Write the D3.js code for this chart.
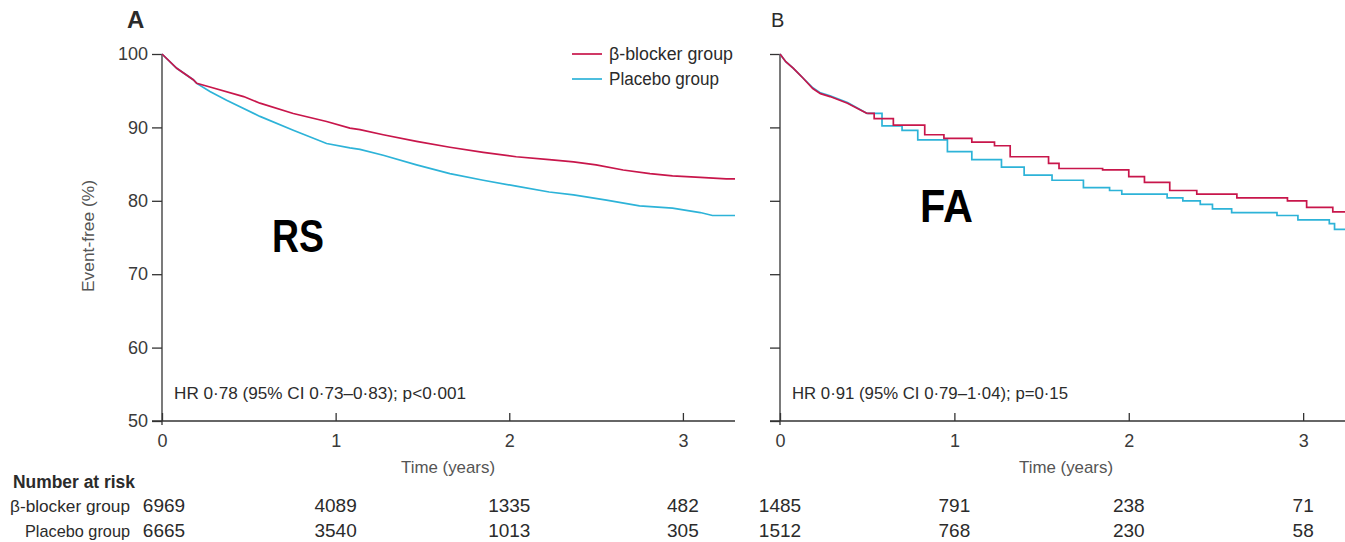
<!DOCTYPE html>
<html>
<head>
<meta charset="utf-8">
<script src="https://cdn.jsdelivr.net/npm/d3@7"></script>
<style>
  body { margin: 0; background: #fff; }
  svg text { font-family: 'Liberation Sans', Arial, sans-serif; fill: #2b2b2b; }
  .tick-label { font-size: 18px; fill: #3a3a3a; }
  .note { font-size: 17px; }
  .axis-title { font-size: 17px; fill: #555; }
  .risk { font-size: 19px; }
  .risk-label { font-size: 17px; }
</style>
</head>
<body>
<div id="chart"></div>
<script>
  // panel A (RS) — time in years, event-free %
  const rsBetaT = [0, 0.085, 0.18, 0.2, 0.276, 0.47, 0.564, 0.756, 0.948, 1.082, 1.14, 1.274, 1.466, 1.658, 1.85, 2.04, 2.23, 2.37, 2.5, 2.656, 2.81, 2.94, 3.1, 3.25, 3.3];
  const rsBetaV = [100, 98.05, 96.5, 96.0, 95.5, 94.2, 93.3, 91.9, 90.8, 89.9, 89.7, 89.0, 88.1, 87.3, 86.6, 86.0, 85.6, 85.3, 84.9, 84.2, 83.7, 83.4, 83.2, 83.0, 83.0];
  const rsPlacT = [0, 0.085, 0.18, 0.2, 0.276, 0.372, 0.564, 0.756, 0.948, 1.082, 1.14, 1.274, 1.466, 1.658, 1.85, 2.04, 2.23, 2.37, 2.56, 2.75, 2.94, 3.1, 3.17, 3.3];
  const rsPlacV = [100, 98.05, 96.5, 96.0, 94.9, 93.7, 91.5, 89.6, 87.8, 87.2, 87.0, 86.2, 84.9, 83.7, 82.8, 82.0, 81.2, 80.8, 80.1, 79.3, 79.0, 78.4, 78.0, 78.0];

  // panel B (FA) — smooth part up to 0.5 years, stepped after
  const faBetaT = [0, 0.033, 0.077, 0.133, 0.188, 0.232, 0.287, 0.387, 0.5, 0.54, 0.65, 0.83, 0.94, 1.1, 1.23, 1.32, 1.54, 1.6, 1.85, 2.0, 2.09, 2.235, 2.39, 2.62, 2.91, 3.02, 3.17, 3.24];
  const faBetaV = [100, 98.95, 98.05, 96.7, 95.3, 94.6, 94.2, 93.3, 91.9, 91.2, 90.3, 89.0, 88.5, 88.0, 87.5, 86.0, 85.1, 84.4, 84.2, 83.3, 82.5, 81.4, 80.9, 80.4, 80.0, 79.1, 78.5, 78.5];
  const faPlacT = [0, 0.033, 0.077, 0.133, 0.188, 0.232, 0.287, 0.387, 0.5, 0.585, 0.7, 0.79, 0.96, 1.1, 1.27, 1.4, 1.56, 1.74, 1.89, 1.96, 2.22, 2.31, 2.41, 2.48, 2.59, 2.85, 2.97, 3.15, 3.18, 3.24];
  const faPlacV = [100, 98.95, 98.05, 96.7, 95.4, 94.7, 94.3, 93.4, 91.9, 90.2, 89.6, 88.3, 86.7, 85.6, 84.6, 83.5, 82.8, 81.8, 81.4, 80.9, 80.4, 80.0, 79.5, 78.9, 78.4, 78.0, 77.4, 76.9, 76.1, 76.1];

  const yTicks = [50, 60, 70, 80, 90, 100];
  const xTicks = [0, 1, 2, 3];

  const groups = ['β-blocker group', 'Placebo group'];
  const riskA = [[6969, 4089, 1335, 482], [6665, 3540, 1013, 305]];
  const riskB = [[1485, 791, 238, 71], [1512, 768, 230, 58]];

  const RED = '#c8164b';
  const BLUE = '#2db3d8';
  const AXIS = '#333';

  const width = 1345;
  const height = 542;
  const plotTop = 54;
  const plotBottom = 421;

  // squeeze Arial-ish text to the narrow widths of the original typeface
  const fit = function (sel, len) {
    sel.attr('textLength', len).attr('lengthAdjust', 'spacingAndGlyphs');
    return sel;
  };

  const svg = d3.select('#chart').append('svg')
    .attr('width', width)
    .attr('height', height);

  const yScale = d3.scaleLinear().domain([50, 100]).range([plotBottom, plotTop]);

  const panels = [
    { id: 'A', x0: 162, tMax: 3.3, x1: 735, tag: 'RS', tagX: 272, tagY: 252, tagW: 52, labels: true,
      hr: 'HR 0·78 (95% CI 0·73–0·83); p<0·001', hrW: 292, stepFrom: null, titleX: 448,
      series: [[rsPlacT, rsPlacV, BLUE], [rsBetaT, rsBetaV, RED]], risk: riskA },
    { id: 'B', x0: 780, tMax: 3.24, x1: 1345, tag: 'FA', tagX: 920, tagY: 222, tagW: 53, labels: false,
      hr: 'HR 0·91 (95% CI 0·79–1·04); p=0·15', hrW: 276, stepFrom: 0.5, titleX: 1066,
      series: [[faPlacT, faPlacV, BLUE], [faBetaT, faBetaV, RED]], risk: riskB },
  ];

  panels.forEach(function (p) {
    const xScale = d3.scaleLinear().domain([0, p.tMax]).range([p.x0, p.x1]);
    const g = svg.append('g');

    // y axis, ticks point outward
    const yAxis = d3.axisLeft(yScale).tickValues(yTicks).tickSize(10).tickSizeOuter(0)
      .tickFormat(p.labels ? d3.format('d') : '');
    const ya = g.append('g').attr('transform', `translate(${p.x0},0)`).call(yAxis)
      .attr('font-family', null).attr('font-size', null);
    ya.select('.domain').attr('stroke', AXIS).attr('stroke-width', 1.3)
      .attr('d', `M0,${plotTop}V${plotBottom + 4}`);
    ya.selectAll('.tick line').attr('stroke', AXIS).attr('stroke-width', 1.3);
    ya.selectAll('.tick text').attr('class', 'tick-label').attr('x', -14);

    // x axis, ticks point inward
    const xAxis = d3.axisBottom(xScale).tickValues(xTicks).tickSize(-8).tickSizeOuter(0).tickFormat(d3.format('d'));
    const xa = g.append('g').attr('transform', `translate(0,${plotBottom})`).call(xAxis)
      .attr('font-family', null).attr('font-size', null);
    xa.select('.domain').attr('stroke', AXIS).attr('stroke-width', 1.3)
      .attr('d', `M${p.x0 - 10},0H${p.x1}`);
    xa.selectAll('.tick line').attr('stroke', AXIS).attr('stroke-width', 1.3);
    xa.selectAll('.tick text').attr('class', 'tick-label').attr('y', 13).attr('dy', '0.71em');

    // curves: linear where the drop is dense, stepped where the steps show
    p.series.forEach(function (s) {
      const pts = s[0].map((t, i) => [t, s[1][i]]);
      const parts = p.stepFrom === null
        ? [[pts, d3.curveLinear]]
        : [[pts.filter(d => d[0] <= p.stepFrom), d3.curveLinear],
           [pts.filter(d => d[0] >= p.stepFrom), d3.curveStepAfter]];
      parts.forEach(function (part) {
        g.append('path')
          .datum(part[0])
          .attr('fill', 'none')
          .attr('stroke', s[2])
          .attr('stroke-width', 1.7)
          .attr('d', d3.line().curve(part[1]).x(d => xScale(d[0])).y(d => yScale(d[1])));
      });
    });

    // panel letter
    g.append('text')
      .attr('x', p.id === 'A' ? 127 : 771)
      .attr('y', p.id === 'A' ? 28 : 27)
      .attr('font-size', p.id === 'A' ? 24 : 20)
      .attr('font-weight', p.id === 'A' ? 'bold' : 'normal')
      .text(p.id);

    // big tag
    fit(g.append('text')
      .attr('x', p.tagX)
      .attr('y', p.tagY)
      .attr('font-size', 46)
      .attr('font-weight', 'bold')
      .style('fill', '#000')
      .text(p.tag), p.tagW);

    // hazard ratio note
    fit(g.append('text')
      .attr('class', 'note')
      .attr('x', p.x0 + 12)
      .attr('y', 399)
      .text(p.hr), p.hrW);

    // axis title
    fit(g.append('text')
      .attr('class', 'axis-title')
      .attr('x', p.titleX - 47)
      .attr('y', 473)
      .text('Time (years)'), 94);

    // number at risk
    p.risk.forEach(function (row, r) {
      row.forEach(function (n, i) {
        g.append('text')
          .attr('class', 'risk')
          .attr('x', xScale(xTicks[i]) + (p.id === 'A' && i === 0 ? 2 : 0))
          .attr('y', 512 + r * 25)
          .attr('text-anchor', 'middle')
          .text(n);
      });
    });
  });

  // y axis title
  fit(svg.append('text')
    .attr('class', 'axis-title')
    .attr('transform', 'translate(94,292) rotate(-90)')
    .text('Event-free (%)'), 112);

  // risk table labels
  fit(svg.append('text')
    .attr('x', 13)
    .attr('y', 488)
    .attr('font-size', 18)
    .attr('font-weight', 'bold')
    .text('Number at risk'), 122);

  [[10, 120], [25, 105]].forEach(function (pos, r) {
    fit(svg.append('text')
      .attr('class', 'risk-label')
      .attr('x', pos[0])
      .attr('y', 512 + r * 25)
      .text(groups[r]), pos[1]);
  });

  // legend
  const legend = svg.append('g');
  [[RED, 124], [BLUE, 110]].forEach(function (c, i) {
    legend.append('line')
      .attr('x1', 572).attr('x2', 602)
      .attr('y1', 54 + i * 25).attr('y2', 54 + i * 25)
      .attr('stroke', c[0]).attr('stroke-width', 1.7);
    fit(legend.append('text')
      .attr('x', 609)
      .attr('y', 60 + i * 25)
      .attr('font-size', 18)
      .text(groups[i]), c[1]);
  });
</script>
</body>
</html>
